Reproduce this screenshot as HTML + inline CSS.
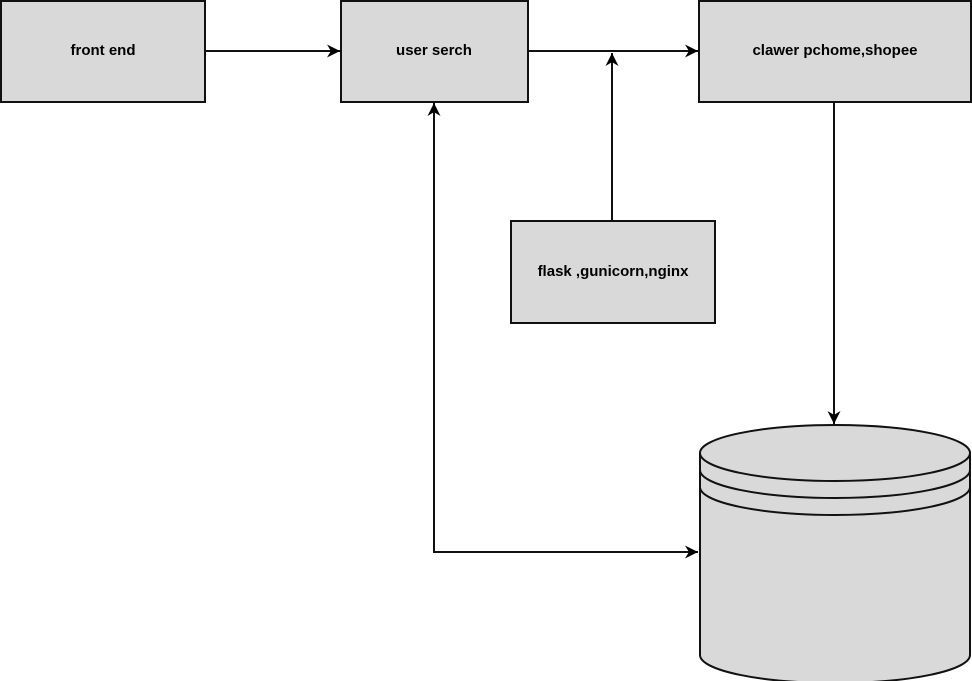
<!DOCTYPE html>
<html><head><style>body{margin:0;background:#fff}svg{display:block}</style></head><body>
<svg width="972" height="681" viewBox="0 0 972 681" xmlns="http://www.w3.org/2000/svg">
<defs><marker id="b" viewBox="0 0 10 10" refX="10" refY="5" markerWidth="13" markerHeight="13" markerUnits="userSpaceOnUse" orient="auto"><path d="M0,0 L10,5 L0,10 L3,5 Z" fill="#000"/></marker></defs>
<g fill="#d9d9d9" stroke="#111" stroke-width="2">
<rect x="1" y="1" width="204" height="101"/>
<rect x="341" y="1" width="187" height="101"/>
<rect x="699" y="1" width="272" height="101"/>
<rect x="511" y="221" width="204" height="102"/>
<path d="M700,453 L700,655 A135,28 0 0 0 970,655 L970,453"/>
<ellipse cx="835" cy="453" rx="135" ry="28"/>
</g>
<g fill="none" stroke="#111" stroke-width="2">
<path d="M700,470 A135,28 0 0 0 970,470"/>
<path d="M700,487 A135,28 0 0 0 970,487"/>
<line x1="205" y1="51" x2="340" y2="51" marker-end="url(#b)"/>
<line x1="528" y1="51" x2="698" y2="51" marker-end="url(#b)"/>
<line x1="612" y1="221" x2="612" y2="53" marker-end="url(#b)"/>
<line x1="834" y1="102" x2="834" y2="424" marker-end="url(#b)"/>
<polyline points="698,552 434,552 434,103" marker-end="url(#b)"/>
<line x1="434" y1="552" x2="698" y2="552" marker-end="url(#b)"/>
</g>
<g font-family="Liberation Sans, sans-serif" font-size="15" font-weight="bold" text-anchor="middle" fill="#000">
<text x="103" y="55">front end</text>
<text x="434" y="55">user serch</text>
<text x="835" y="55">clawer pchome,shopee</text>
<text x="613" y="276">flask ,gunicorn,nginx</text>
</g>
</svg>
</body></html>
